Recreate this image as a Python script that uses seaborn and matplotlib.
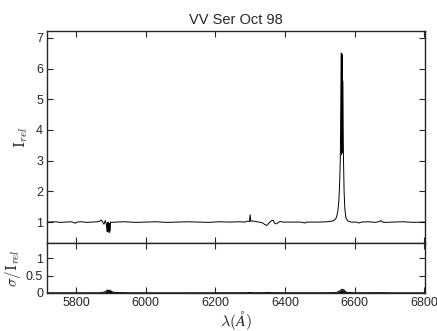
import numpy as np
import pandas as pd
import seaborn as sns
import matplotlib.pyplot as plt

# spectrum (wavelength in Angstrom, relative intensity)
wave = [5720, 5740, 5755, 5770, 5785, 5795, 5798, 5802, 5815, 5830, 5845, 5860,
        5868, 5872, 5876, 5880, 5884, 5887, 5889, 5890, 5891, 5893, 5895, 5896,
        5897, 5899, 5903, 5915, 5940, 5970, 6000, 6030, 6060, 6090, 6120, 6150,
        6180, 6210, 6240, 6270, 6285, 6292, 6298, 6300, 6302, 6306, 6315, 6325,
        6335, 6342, 6348, 6355, 6362, 6366, 6370, 6375, 6380, 6386, 6395, 6420,
        6445, 6458, 6462, 6470, 6500, 6520, 6535, 6542, 6548, 6552, 6555, 6557,
        6559, 6560, 6561, 6562, 6562.5, 6563, 6563.5, 6564, 6564.5, 6565, 6565.5,
        6566, 6567, 6568, 6570, 6572, 6575, 6580, 6590, 6605, 6612, 6620, 6640,
        6660, 6672, 6676, 6680, 6690, 6710, 6740, 6770, 6800, 6810]
irel = [1.00, 1.01, 0.99, 1.00, 1.01, 0.98, 0.96, 1.00, 1.01, 0.99, 1.00, 1.01,
        1.03, 1.07, 1.01, 0.93, 1.05, 0.92, 0.68, 0.98, 0.70, 1.00, 0.66, 0.95,
        0.70, 1.00, 0.99, 1.00, 1.01, 0.99, 1.00, 1.01, 0.99, 1.00, 1.01, 1.00,
        0.99, 1.01, 1.00, 1.01, 1.00, 1.03, 1.02, 1.24, 1.02, 1.04, 1.02, 1.00,
        0.98, 0.92, 0.89, 0.98, 1.05, 1.06, 0.97, 0.94, 0.98, 1.02, 1.00, 1.00,
        1.00, 0.97, 1.00, 1.00, 1.00, 1.01, 1.03, 1.06, 1.15, 1.35, 1.70, 2.20,
        3.00, 4.00, 5.20, 6.50, 3.20, 6.50, 3.30, 6.45, 3.25, 6.40, 3.30, 5.60,
        4.30, 3.20, 2.00, 1.45, 1.15, 1.04, 1.00, 1.00, 0.97, 1.00, 1.01,
        0.99, 1.02, 1.05, 1.00, 0.99, 1.00, 1.01, 0.99, 1.00, 1.00]

# error spectrum
wave_err = [5720, 5760, 5800, 5840, 5870, 5878, 5884, 5888, 5891, 5894, 5897,
            5902, 5910, 5950, 6000, 6100, 6200, 6290, 6300, 6310, 6340, 6350,
            6360, 6400, 6500, 6540, 6550, 6555, 6560, 6563, 6566, 6569, 6573,
            6580, 6600, 6680, 6700, 6810]
sigma = [0.004, 0.005, 0.004, 0.005, 0.006, 0.02, 0.04, 0.07, 0.09, 0.06, 0.08,
         0.04, 0.015, 0.005, 0.004, 0.004, 0.005, 0.006, 0.015, 0.006, 0.008, 0.015,
         0.008, 0.005, 0.005, 0.008, 0.02, 0.05, 0.07, 0.11, 0.08, 0.10, 0.04,
         0.015, 0.005, 0.008, 0.004, 0.004]

spec = pd.DataFrame({"wave": wave, "irel": irel})
err = pd.DataFrame({"wave": wave_err, "sigma": sigma})

sns.set_style("ticks")
plt.rcParams["font.family"] = ["Liberation Sans", "DejaVu Sans"]
plt.rcParams["mathtext.fontset"] = "cm"
plt.rcParams["xtick.direction"] = "in"
plt.rcParams["ytick.direction"] = "in"

fig = plt.figure(figsize=(4.37, 3.31), dpi=100)
ax1 = fig.add_axes([0.108, 0.266, 0.865, 0.640])
ax2 = fig.add_axes([0.108, 0.115, 0.865, 0.151], sharex=ax1)

sns.lineplot(data=spec, x="wave", y="irel", ax=ax1, color="black",
             linewidth=0.7, sort=False, estimator=None)
sns.lineplot(data=err, x="wave", y="sigma", ax=ax2, color="black",
             linewidth=0.7, sort=False, estimator=None)
ax2.fill_between(err["wave"], 0, err["sigma"], color="black", linewidth=0)

ax1.set_xlim(5717, 6803)
ax1.set_ylim(0.32, 7.22)
ax1.set_yticks([1, 2, 3, 4, 5, 6, 7])
ax2.set_ylim(0, 1.45)
ax2.set_yticks([0, 0.5, 1])
ax2.set_yticklabels(["0", "0.5", "1"])
ax2.set_xticks([5800, 6000, 6200, 6400, 6600, 6800])

for ax in (ax1, ax2):
    ax.tick_params(top=True, right=True, labelsize=9, length=4, width=0.8, pad=3)
    for s in ax.spines.values():
        s.set_linewidth(1.0)
ax1.tick_params(labelbottom=False)

ax1.set_title("VV Ser Oct 98", fontsize=10.5, pad=5)
ax1.set_xlabel("")
ax1.set_ylabel(r"I$_{rel}$", fontsize=11, family="serif")
ax2.set_ylabel(r"$\sigma/$I$_{rel}$", fontsize=11, family="serif", labelpad=2)
ax2.set_xlabel(r"$\lambda(\AA)$", fontsize=11.5, labelpad=0)

fig.savefig("out.png", dpi=100)
